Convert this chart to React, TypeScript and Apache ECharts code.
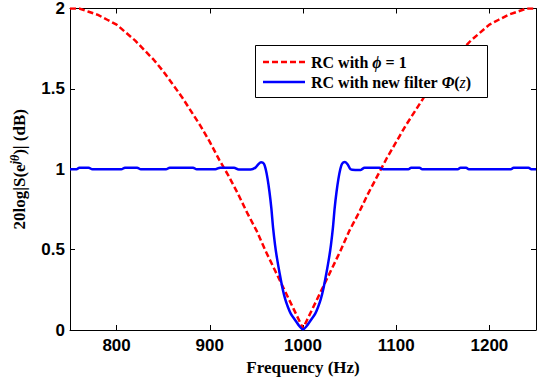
import React, { useEffect, useRef } from "react";
import * as echarts from "echarts";

const redFreq = [750, 760, 770, 780, 790, 800, 810, 820, 830, 840, 850, 860, 870, 880, 890, 900, 910, 920, 930, 940, 950, 960, 970, 980, 990, 1000,
  1010, 1020, 1030, 1040, 1050, 1060, 1070, 1080, 1090, 1100, 1110, 1120, 1130, 1140, 1150, 1160, 1170, 1180, 1190, 1200, 1210, 1220, 1230, 1240, 1250];
const redVals = [2.0, 2.0, 1.98, 1.96, 1.93, 1.9, 1.85, 1.8, 1.74, 1.68, 1.61, 1.53, 1.45, 1.36, 1.27, 1.17, 1.06, 0.96, 0.85, 0.73, 0.62, 0.49, 0.37, 0.25, 0.13, 0.01,
  0.13, 0.25, 0.37, 0.49, 0.62, 0.73, 0.85, 0.96, 1.07, 1.17, 1.27, 1.36, 1.45, 1.53, 1.61, 1.68, 1.74, 1.8, 1.85, 1.9, 1.93, 1.96, 1.98, 2.0, 2.0];

const blueFreq = [750, 757, 760, 770, 774, 805, 809, 822, 826, 853, 857, 882, 886, 906, 911, 926, 931, 944, 949, 952, 955, 958, 960, 962, 964, 966, 968, 970, 972, 975, 978, 981, 984, 987, 990, 993, 996, 1000,
  1004, 1007, 1010, 1013, 1016, 1019, 1022, 1025, 1028, 1030, 1032, 1034, 1036, 1038, 1040, 1042, 1045, 1048, 1051, 1056, 1062, 1066, 1082, 1086, 1113, 1116, 1125, 1128, 1166, 1169, 1175, 1178, 1223, 1226, 1242, 1245, 1250];
const blueVals = [1.0, 1.0, 1.01, 1.01, 1.0, 1.0, 1.01, 1.01, 1.0, 1.0, 1.01, 1.01, 1.0, 1.0, 1.01, 1.01, 0.998, 0.998, 1.01, 1.03, 1.043, 1.035, 1.0, 0.94, 0.86, 0.76, 0.63, 0.53, 0.45, 0.35, 0.26, 0.19, 0.14, 0.1, 0.075, 0.05, 0.025, 0.004,
  0.025, 0.05, 0.075, 0.1, 0.14, 0.19, 0.26, 0.35, 0.45, 0.53, 0.63, 0.76, 0.86, 0.94, 1.0, 1.035, 1.045, 1.03, 1.0, 0.996, 0.996, 1.01, 1.01, 1.0, 1.0, 1.01, 1.01, 1.0, 1.0, 1.01, 1.01, 1.0, 1.0, 1.01, 1.01, 1.0, 1.0];

const xTicks = [800, 900, 1000, 1100, 1200];
const yTicks = [0, 0.5, 1, 1.5, 2];
const legendLabels = ["{b|RC with }{bi|ϕ}{b| = 1}", "{b|RC with new filter }{bi|Φ}{b|(}{i|z}{b|)}"];

export default function App() {
  const ref = useRef<HTMLDivElement>(null);
  useEffect(() => {
    if (!ref.current) return;
    const chart = echarts.init(ref.current, undefined, { renderer: "svg" });
    const sans = "Liberation Sans";
    const serif = "Liberation Serif";
    const axisLine = { show: true, onZero: false, lineStyle: { color: "#000", width: 1 } };
    const tick = { show: true, inside: true, length: 5, lineStyle: { color: "#000" } };
    const legendRich = {
      b: { fontFamily: serif, fontWeight: "bold", fontSize: 16, fill: "#000", color: "#000" },
      bi: { fontFamily: serif, fontWeight: "bold", fontStyle: "italic", fontSize: 16, fill: "#000", color: "#000" },
      i: { fontFamily: serif, fontStyle: "italic", fontSize: 16, fill: "#000", color: "#000" },
    };
    chart.setOption({
      animation: false,
      backgroundColor: "#fff",
      grid: { left: 70, right: 4, top: 7, bottom: 51 },
      graphic: [
        {
          type: "rect",
          shape: { x: 255.5, y: 45.5, width: 232, height: 52 },
          style: { fill: "#fff", stroke: "#000", lineWidth: 1 },
          z: 100,
        },
        {
          type: "line",
          shape: { x1: 263, y1: 62, x2: 305, y2: 62 },
          style: { stroke: "#ff0000", lineWidth: 2.5, lineDash: [6, 3] },
          z: 101,
        },
        {
          type: "line",
          shape: { x1: 263, y1: 82, x2: 305, y2: 82 },
          style: { stroke: "#0000ff", lineWidth: 2.5 },
          z: 101,
        },
        {
          type: "text",
          x: 311,
          y: 62,
          style: { text: legendLabels[0], rich: legendRich, verticalAlign: "middle", align: "left" },
          z: 101,
        },
        {
          type: "text",
          x: 311,
          y: 82,
          style: { text: legendLabels[1], rich: legendRich, verticalAlign: "middle", align: "left" },
          z: 101,
        },
      ],
      xAxis: [
        {
          type: "value",
          min: 750,
          max: 1250,
          splitNumber: 5,
          position: "bottom",
          axisLine,
          axisTick: tick,
          splitLine: { show: false },
          axisLabel: {
            show: true,
            margin: 7,
            showMinLabel: false,
            showMaxLabel: false,
            fontFamily: sans,
            fontWeight: "bold",
            fontSize: 17,
            color: "#000",
            formatter: (v: number) => (xTicks.includes(v) ? String(v) : ""),
          },
          name: "Frequency (Hz)",
          nameLocation: "middle",
          nameGap: 27,
          nameTextStyle: { fontFamily: serif, fontWeight: "bold", fontSize: 17, color: "#000" },
        },
        {
          type: "value",
          min: 750,
          max: 1250,
          splitNumber: 5,
          position: "top",
          axisLine,
          axisTick: tick,
          splitLine: { show: false },
          axisLabel: { show: false },
        },
      ],
      yAxis: [
        {
          type: "value",
          min: 0,
          max: 2,
          interval: 0.5,
          position: "left",
          axisLine,
          axisTick: tick,
          splitLine: { show: false },
          axisLabel: {
            show: true,
            margin: 5,
            fontFamily: sans,
            fontWeight: "bold",
            fontSize: 17,
            color: "#000",
            formatter: (v: number) => (yTicks.includes(v) ? String(v) : ""),
          },
          name: "{b|20log|S(e}{s|jθ}{b|)| (dB)}",
          nameLocation: "middle",
          nameGap: 40,
          nameTextStyle: {
            rich: {
              b: { fontFamily: serif, fontWeight: "bold", fontSize: 17, color: "#000" },
              s: { fontFamily: serif, fontWeight: "bold", fontStyle: "italic", fontSize: 12, color: "#000", padding: [0, 0, 9, 0] },
            },
          },
        },
        {
          type: "value",
          min: 0,
          max: 2,
          interval: 0.5,
          position: "right",
          axisLine,
          axisTick: tick,
          splitLine: { show: false },
          axisLabel: { show: false },
        },
      ],
      series: [
        {
          name: "red",
          type: "line",
          xAxisIndex: 0,
          yAxisIndex: 0,
          symbol: "none",
          smooth: false,
          data: redFreq.map((f, i) => [f, redVals[i]]),
          lineStyle: { color: "#ff0000", width: 2.5, type: [6, 3] },
          itemStyle: { color: "#ff0000" },
          z: 2,
        },
        {
          name: "blue",
          type: "line",
          xAxisIndex: 0,
          yAxisIndex: 0,
          symbol: "none",
          smooth: 0.3,
          data: blueFreq.map((f, i) => [f, blueVals[i]]),
          lineStyle: { color: "#0000ff", width: 2.5 },
          itemStyle: { color: "#0000ff" },
          z: 3,
        },
      ],
    });
    return () => chart.dispose();
  }, []);
  return (
    <div
      ref={ref}
      style={{ position: "fixed", left: 0, top: 0, width: 540, height: 381, background: "#fff" }}
    />
  );
}
